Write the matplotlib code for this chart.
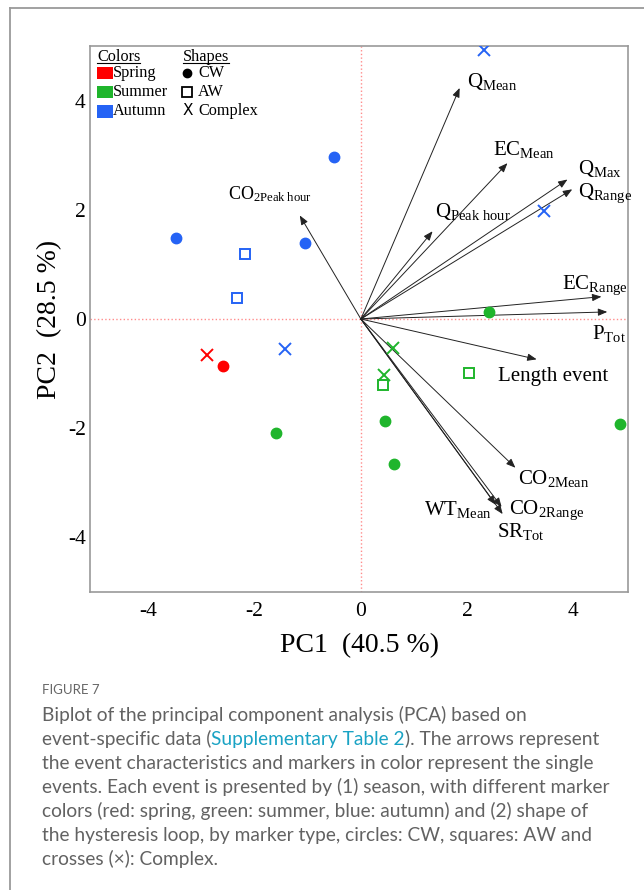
import matplotlib
matplotlib.use("Agg")
import matplotlib.pyplot as plt
from matplotlib.lines import Line2D
from matplotlib.patches import Rectangle

plt.rcParams['font.family'] = ['Liberation Serif', 'DejaVu Serif']
plt.rcParams['mathtext.fontset'] = 'custom'
plt.rcParams['mathtext.rm'] = 'Liberation Serif'
plt.rcParams['mathtext.it'] = 'Liberation Serif:italic'
plt.rcParams['axes.unicode_minus'] = False

# single events (scores)
pc1 = [-0.51, -3.48, -1.05, -2.18, -2.33, 2.31, 3.44, -1.43,
       -2.89, -2.59,
       -1.60, 2.41, 0.45, 0.62, 4.87, 0.60, 0.43, 0.41, 2.03]
pc2 = [2.97, 1.49, 1.40, 1.20, 0.39, 4.93, 1.99, -0.55,
       -0.66, -0.87,
       -2.10, 0.13, -1.88, -2.66, -1.92, -0.54, -1.03, -1.22, -1.00]
season = ['Autumn', 'Autumn', 'Autumn', 'Autumn', 'Autumn', 'Autumn', 'Autumn', 'Autumn',
          'Spring', 'Spring',
          'Summer', 'Summer', 'Summer', 'Summer', 'Summer', 'Summer', 'Summer', 'Summer', 'Summer']
shape = ['CW', 'CW', 'CW', 'AW', 'AW', 'Complex', 'Complex', 'Complex',
         'Complex', 'CW',
         'CW', 'CW', 'CW', 'CW', 'CW', 'Complex', 'Complex', 'AW', 'AW']

# event characteristics (loadings)
var_names = [r'Q$_{\mathrm{Mean}}$', r'EC$_{\mathrm{Mean}}$', r'Q$_{\mathrm{Max}}$',
             r'Q$_{\mathrm{Range}}$', r'Q$_{\mathrm{Peak\ hour}}$', r'CO$_{\mathrm{2Peak\ hour}}$',
             r'EC$_{\mathrm{Range}}$', r'P$_{\mathrm{Tot}}$', 'Length event',
             r'CO$_{\mathrm{2Mean}}$', r'WT$_{\mathrm{Mean}}$', r'CO$_{\mathrm{2Range}}$',
             r'SR$_{\mathrm{Tot}}$']
load1 = [1.86, 2.76, 3.89, 3.98, 1.35, -1.15, 4.53, 4.64, 3.31, 2.91, 2.54, 2.65, 2.67]
load2 = [4.24, 2.86, 2.56, 2.38, 1.61, 1.90, 0.41, 0.13, -0.74, -2.73, -3.41, -3.45, -3.58]

season_colors = {'Spring': '#ff0000', 'Summer': '#1fb52c', 'Autumn': '#2563f5'}

# label placement (x, baseline y, ha, size)
label_pos = [(2.00, 4.26, 'left', 15), (2.49, 3.01, 'left', 15), (4.09, 2.66, 'left', 15),
             (4.09, 2.24, 'left', 15), (1.39, 1.88, 'left', 15), (-2.50, 2.20, 'left', 13),
             (3.79, 0.55, 'left', 15), (4.35, -0.37, 'left', 15), (2.58, -1.14, 'left', 15),
             (2.96, -3.03, 'left', 15), (2.47, -3.60, 'right', 15), (2.79, -3.58, 'left', 15),
             (2.56, -4.00, 'left', 15)]

W, H = 644, 890
fig = plt.figure(figsize=(W / 100, H / 100), dpi=100)

# page card border (left and top)
fig.add_artist(Line2D([10 / W, 10 / W], [0, 1 - 8 / H], color='#9a9a9a', lw=1.3))
fig.add_artist(Line2D([10 / W, 1], [1 - 8 / H, 1 - 8 / H], color='#9a9a9a', lw=1.3))

ax = fig.add_axes([90 / W, 1 - 592 / H, 538 / W, 546 / H])
ax.set_xlim(-5.1, 5.03)
ax.set_ylim(-5.01, 5.01)
for s in ax.spines.values():
    s.set_color('#999999')
    s.set_linewidth(1.2)
ax.set_xticks([-4, -2, 0, 2, 4])
ax.set_yticks([-4, -2, 0, 2, 4])
ax.tick_params(length=0, labelsize=15.5)
ax.tick_params(axis='x', pad=7)
ax.tick_params(axis='y', pad=3)
ax.set_xlabel('PC1  (40.5 %)', fontsize=20, labelpad=9)
ax.set_ylabel('PC2  (28.5 %)', fontsize=20, labelpad=4)

ax.axhline(0, color='#ff8c8c', ls=':', lw=1.0, zorder=1)
ax.axvline(0, color='#ff8c8c', ls=':', lw=1.0, zorder=1)

for x, y, se, sh in zip(pc1, pc2, season, shape):
    c = season_colors[se]
    if sh == 'CW':
        ax.plot(x, y, 'o', color=c, ms=7.5, zorder=3)
    elif sh == 'AW':
        ax.plot(x, y, 's', mfc='none', mec=c, mew=1.4, ms=7, zorder=3)
    else:
        ax.plot(x, y, 'x', color=c, mew=1.4, ms=8, zorder=3)

for name, lx, ly, (tx, ty, ha, fs) in zip(var_names, load1, load2, label_pos):
    ax.annotate('', xy=(lx, ly), xytext=(0, 0),
                arrowprops=dict(arrowstyle='-|>,head_length=0.55,head_width=0.22',
                                color='#222222', lw=0.7, shrinkA=0, shrinkB=0),
                zorder=2)
    ax.text(tx, ty, name, fontsize=fs, ha=ha, va='baseline', zorder=4)

# legend drawn by hand
lfs = 11.7
t1 = ax.text(0.013, 0.980, 'Colors', transform=ax.transAxes, fontsize=lfs, va='center')
t2 = ax.text(0.173, 0.980, 'Shapes', transform=ax.transAxes, fontsize=lfs, va='center')
rows = [0.951, 0.916, 0.881]
for yy, se in zip(rows, ['Spring', 'Summer', 'Autumn']):
    ax.add_patch(Rectangle((0.013, yy - 0.012), 0.029, 0.023, transform=ax.transAxes,
                           color=season_colors[se], lw=0))
    ax.text(0.043, yy, se, transform=ax.transAxes, fontsize=lfs, va='center')
ax.plot(0.181, rows[0], 'o', color='black', ms=6, transform=ax.transAxes)
ax.plot(0.181, rows[1], 's', mfc='none', mec='black', mew=1.3, ms=6.5, transform=ax.transAxes)
ax.text(0.181, rows[2], 'X', transform=ax.transAxes, fontsize=11, ha='center', va='center',
        family='DejaVu Sans')
for yy, sh in zip(rows, ['CW', 'AW', 'Complex']):
    ax.text(0.201, yy, sh, transform=ax.transAxes, fontsize=lfs, va='center')

fig.canvas.draw()
inv = ax.transAxes.inverted()
for t in (t1, t2):
    bb = t.get_window_extent()
    (x0, y0), (x1, y1) = inv.transform([(bb.x0, bb.y0), (bb.x1, bb.y1)])
    ax.plot([x0, x1], [y0 + 0.003, y0 + 0.003], color='black', lw=0.8, transform=ax.transAxes)

# caption
cap_font = ['Lato', 'DejaVu Sans']
gray = '#626262'
fig.text(42 / W, 1 - 690 / H, 'FIGURE 7', fontsize=9.5, color='#666666', family=cap_font,
         va='center')
lines = ['Biplot of the principal component analysis (PCA) based on',
         None,
         'the event characteristics and markers in color represent the single',
         'events. Each event is presented by (1) season, with different marker',
         'colors (red: spring, green: summer, blue: autumn) and (2) shape of',
         'the hysteresis loop, by marker type, circles: CW, squares: AW and',
         'crosses (\u00d7): Complex.']
cfs = 13.8
renderer = fig.canvas.get_renderer()
for i, ln in enumerate(lines):
    yy = 1 - (715 + 24 * i) / H
    if ln is not None:
        fig.text(42 / W, yy, ln, fontsize=cfs, color=gray, family=cap_font, va='center')
    else:
        xpos = 42 / W
        for part, col in [('event-specific data (', gray), ('Supplementary Table 2', '#1aa3c4'),
                          ('). The arrows represent', gray)]:
            tt = fig.text(xpos, yy, part, fontsize=cfs, color=col, family=cap_font,
                          va='center')
            bb = tt.get_window_extent(renderer)
            xpos = bb.x1 / fig.bbox.width

fig.savefig('out.png', dpi=100)
